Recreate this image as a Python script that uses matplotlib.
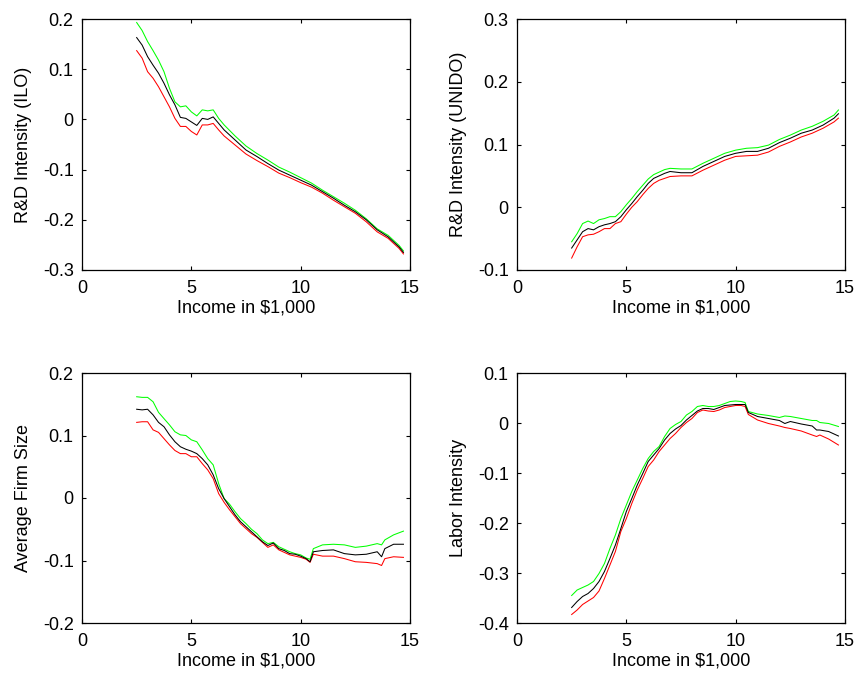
import matplotlib
matplotlib.use("Agg")
import matplotlib.pyplot as plt

plt.rcParams['font.family'] = ['Liberation Sans', 'DejaVu Sans']
plt.rcParams['font.size'] = 13

# ---------------- data ----------------
x_top = [2.5, 2.75, 3.0, 3.25, 3.5, 3.75, 4.0, 4.25, 4.5, 4.75, 5.0, 5.25, 5.5, 5.75,
         6.0, 6.25, 6.5, 6.75, 7.0, 7.5, 8.0, 8.5, 9.0, 9.5, 10.0, 10.5, 11.0, 11.5,
         12.0, 12.5, 13.0, 13.5, 14.0, 14.5, 14.7]

ilo_mid = [0.163, 0.148, 0.125, 0.108, 0.092, 0.072, 0.049, 0.029, 0.004, 0.002, -0.005,
           -0.012, 0.002, 0.000, 0.005, -0.008, -0.021, -0.031, -0.041, -0.061, -0.074,
           -0.088, -0.101, -0.111, -0.121, -0.131, -0.144, -0.157, -0.171, -0.184, -0.200,
           -0.220, -0.234, -0.254, -0.265]
ilo_hi = [0.193, 0.177, 0.155, 0.137, 0.118, 0.095, 0.062, 0.035, 0.025, 0.027, 0.015,
          0.007, 0.019, 0.017, 0.019, 0.002, -0.011, -0.022, -0.033, -0.053, -0.068,
          -0.081, -0.095, -0.105, -0.116, -0.127, -0.141, -0.154, -0.167, -0.181, -0.198,
          -0.218, -0.231, -0.251, -0.262]
ilo_lo = [0.137, 0.122, 0.095, 0.082, 0.065, 0.045, 0.025, 0.002, -0.014, -0.014, -0.024,
          -0.031, -0.011, -0.011, -0.008, -0.021, -0.033, -0.042, -0.051, -0.069, -0.082,
          -0.094, -0.107, -0.116, -0.126, -0.135, -0.147, -0.161, -0.174, -0.187, -0.204,
          -0.224, -0.237, -0.257, -0.268]

unido_mid = [-0.065, -0.052, -0.039, -0.034, -0.036, -0.031, -0.028, -0.026, -0.023, -0.015,
             -0.004, 0.006, 0.017, 0.027, 0.038, 0.046, 0.050, 0.054, 0.057, 0.055, 0.055,
             0.065, 0.073, 0.081, 0.086, 0.089, 0.089, 0.094, 0.103, 0.110, 0.118, 0.123,
             0.131, 0.142, 0.149]
unido_hi = [-0.055, -0.042, -0.026, -0.022, -0.026, -0.020, -0.018, -0.015, -0.015, -0.007,
            0.004, 0.014, 0.025, 0.035, 0.045, 0.052, 0.056, 0.060, 0.062, 0.061, 0.061,
            0.070, 0.078, 0.086, 0.091, 0.094, 0.095, 0.099, 0.108, 0.115, 0.123, 0.129,
            0.137, 0.147, 0.155]
unido_lo = [-0.081, -0.063, -0.047, -0.044, -0.043, -0.039, -0.034, -0.034, -0.026, -0.023,
            -0.011, 0.000, 0.009, 0.020, 0.030, 0.038, 0.043, 0.046, 0.049, 0.050, 0.050,
            0.059, 0.067, 0.075, 0.081, 0.082, 0.083, 0.088, 0.097, 0.104, 0.112, 0.118,
            0.126, 0.136, 0.142]

x_firm = [2.5, 2.75, 3.0, 3.25, 3.5, 3.75, 4.0, 4.25, 4.5, 4.75, 5.0, 5.25, 5.5, 5.75,
          6.0, 6.25, 6.5, 6.75, 7.0, 7.25, 7.5, 7.75, 8.0, 8.25, 8.5, 8.75, 9.0, 9.25,
          9.5, 9.75, 10.0, 10.25, 10.43, 10.58, 11.0, 11.5, 12.0, 12.5, 13.0, 13.5,
          13.7, 13.85, 14.25, 14.7]
firm_mid = [0.142, 0.141, 0.142, 0.133, 0.121, 0.114, 0.101, 0.090, 0.082, 0.078, 0.075,
            0.071, 0.063, 0.053, 0.037, 0.015, -0.001, -0.014, -0.027, -0.038, -0.046,
            -0.054, -0.062, -0.070, -0.076, -0.072, -0.081, -0.084, -0.089, -0.090, -0.093,
            -0.097, -0.102, -0.086, -0.084, -0.083, -0.089, -0.091, -0.090, -0.086, -0.094,
            -0.081, -0.074, -0.074]
firm_hi = [0.162, 0.161, 0.161, 0.154, 0.137, 0.127, 0.117, 0.106, 0.101, 0.100, 0.093,
           0.090, 0.077, 0.063, 0.053, 0.023, -0.001, -0.010, -0.022, -0.033, -0.041,
           -0.050, -0.057, -0.067, -0.073, -0.071, -0.078, -0.082, -0.086, -0.089, -0.091,
           -0.096, -0.098, -0.081, -0.075, -0.074, -0.075, -0.079, -0.077, -0.073, -0.075,
           -0.067, -0.059, -0.053]
firm_lo = [0.121, 0.122, 0.122, 0.109, 0.105, 0.095, 0.085, 0.076, 0.071, 0.071, 0.066,
           0.066, 0.055, 0.045, 0.031, 0.007, -0.007, -0.019, -0.030, -0.041, -0.049,
           -0.057, -0.063, -0.071, -0.079, -0.075, -0.083, -0.087, -0.091, -0.093, -0.095,
           -0.098, -0.103, -0.090, -0.093, -0.093, -0.097, -0.102, -0.103, -0.105, -0.108,
           -0.097, -0.094, -0.095]

x_labor = [2.5, 2.75, 3.0, 3.25, 3.5, 3.75, 4.0, 4.25, 4.5, 4.75, 5.0, 5.25, 5.5, 5.75,
           6.0, 6.25, 6.5, 6.75, 7.0, 7.25, 7.5, 7.75, 8.0, 8.25, 8.5, 8.75, 9.0, 9.25,
           9.5, 9.75, 10.0, 10.25, 10.43, 10.58, 11.0, 11.5, 12.0, 12.25, 12.5, 13.0,
           13.5, 13.7, 13.85, 14.25, 14.7]
labor_mid = [-0.369, -0.357, -0.347, -0.341, -0.331, -0.317, -0.297, -0.271, -0.244, -0.211,
             -0.177, -0.151, -0.124, -0.101, -0.077, -0.064, -0.051, -0.034, -0.021, -0.012,
             -0.005, 0.006, 0.015, 0.024, 0.029, 0.029, 0.027, 0.031, 0.035, 0.036, 0.037,
             0.037, 0.037, 0.021, 0.013, 0.009, 0.005, -0.001, 0.003, -0.002, -0.006, -0.014,
             -0.014, -0.017, -0.026]
labor_hi = [-0.345, -0.334, -0.329, -0.324, -0.317, -0.301, -0.281, -0.251, -0.224, -0.191,
            -0.164, -0.137, -0.114, -0.091, -0.071, -0.057, -0.047, -0.027, -0.011, -0.003,
            0.003, 0.016, 0.023, 0.033, 0.035, 0.033, 0.033, 0.035, 0.039, 0.043, 0.044,
            0.043, 0.041, 0.023, 0.018, 0.015, 0.011, 0.014, 0.013, 0.009, 0.005, 0.005,
            0.001, -0.001, -0.007]
labor_lo = [-0.383, -0.374, -0.363, -0.356, -0.349, -0.336, -0.311, -0.284, -0.257, -0.217,
            -0.191, -0.161, -0.134, -0.111, -0.087, -0.074, -0.057, -0.044, -0.031, -0.021,
            -0.009, 0.001, 0.009, 0.021, 0.026, 0.024, 0.023, 0.026, 0.031, 0.033, 0.035,
            0.035, 0.033, 0.017, 0.006, -0.001, -0.006, -0.009, -0.011, -0.016, -0.024,
            -0.027, -0.024, -0.032, -0.044]

ylabels = ["R&D Intensity (ILO)", "R&D Intensity (UNIDO)", "Average Firm Size", "Labor Intensity"]
xlabel = "Income in $1,000"
xticks = [0, 5, 10, 15]
yticks_list = [[-0.3, -0.2, -0.1, 0, 0.1, 0.2],
               [-0.1, 0, 0.1, 0.2, 0.3],
               [-0.2, -0.1, 0, 0.1, 0.2],
               [-0.4, -0.3, -0.2, -0.1, 0, 0.1]]
yticklabels_list = [["-0.3", "-0.2", "-0.1", "0", "0.1", "0.2"],
                    ["-0.1", "0", "0.1", "0.2", "0.3"],
                    ["-0.2", "-0.1", "0", "0.1", "0.2"],
                    ["-0.4", "-0.3", "-0.2", "-0.1", "0", "0.1"]]

panels = [
    (x_top, ilo_hi, ilo_lo, ilo_mid),
    (x_top, unido_hi, unido_lo, unido_mid),
    (x_firm, firm_hi, firm_lo, firm_mid),
    (x_labor, labor_hi, labor_lo, labor_mid),
]

# ---------------- figure ----------------
W, H = 857, 673
fig = plt.figure(figsize=(W / 100, H / 100), dpi=100)
rects = [
    (82, 19, 328, 251),
    (517, 19, 328, 251),
    (82, 373, 328, 250),
    (517, 373, 328, 250),
]

for i, (rect, (xs, hi, lo, mid)) in enumerate(zip(rects, panels)):
    l, t, w, h = rect
    ax = fig.add_axes([l / W, 1 - (t + h) / H, w / W, h / H])
    ax.plot(xs, hi, color=(0, 1, 0), lw=0.75)
    ax.plot(xs, lo, color=(1, 0, 0), lw=0.75)
    ax.plot(xs, mid, color='black', lw=0.75)
    yt = yticks_list[i]
    ax.set_xlim(0, 15)
    ax.set_ylim(yt[0], yt[-1])
    ax.set_xticks(xticks)
    ax.set_xticklabels([str(v) for v in xticks])
    ax.set_yticks(yt)
    ax.set_yticklabels(yticklabels_list[i])
    ax.tick_params(direction='in', top=True, right=True, length=3, width=0.8,
                   labelsize=13, pad=6)
    ax.tick_params(axis='x', pad=7)
    for s in ax.spines.values():
        s.set_linewidth(0.9)
    ax.set_xlabel(xlabel, fontsize=13, labelpad=2)
    ax.set_ylabel(ylabels[i], fontsize=13, labelpad=8)

fig.savefig("out.png", dpi=100)
